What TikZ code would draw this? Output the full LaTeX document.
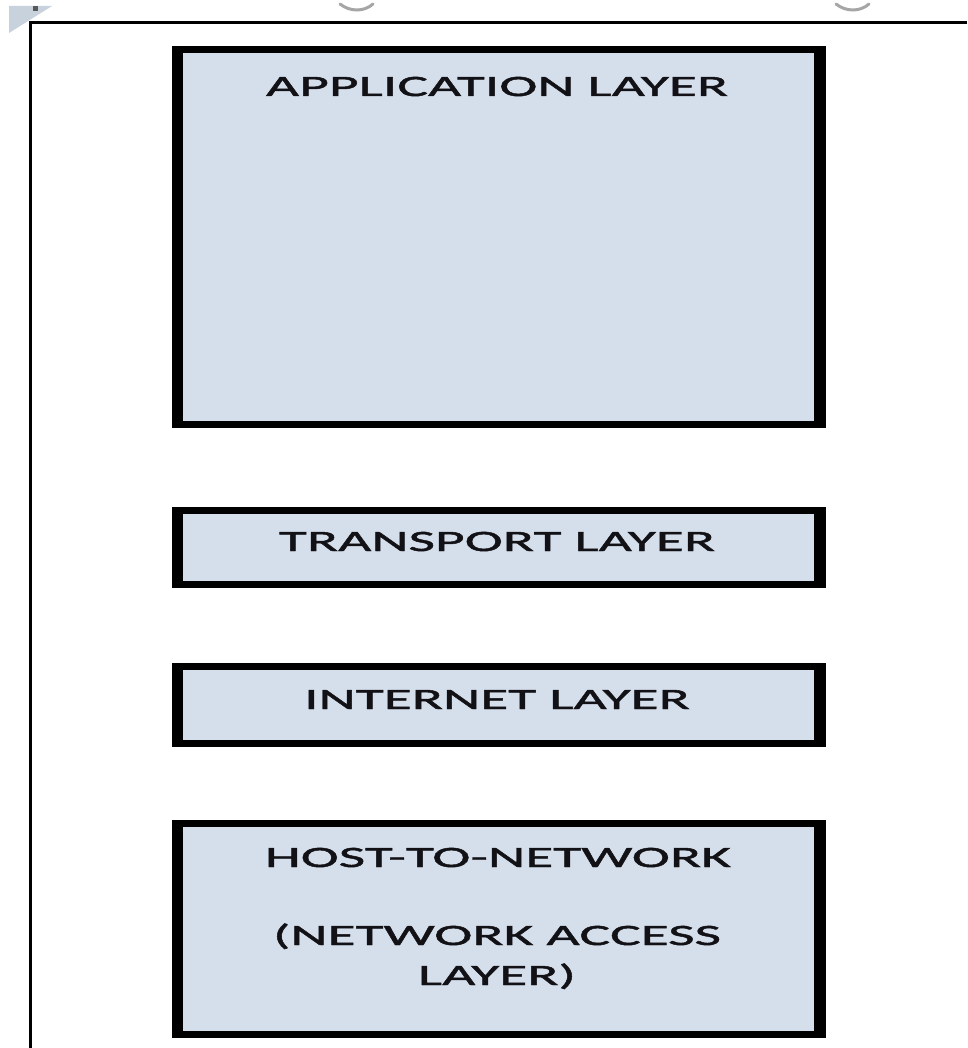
\documentclass[tikz,border=0pt]{standalone}
\usepackage{fontspec}
\newfontfamily\layerfont[FakeStretch=1.95,FakeBold=1.6]{Carlito}
\definecolor{layerfill}{RGB}{213,223,236}
\definecolor{layerink}{RGB}{18,18,22}
\definecolor{cornergray}{RGB}{200,210,220}
\tikzset{
  frameline/.style={line width=3pt, black},
  layertext/.style={anchor=base, inner sep=0pt, text=layerink,
    font=\layerfont\fontsize{29.5}{40}\selectfont},
  glyphbit/.style={line width=3pt, gray!70, line cap=round}
}
\begin{document}
\begin{tikzpicture}[x=1pt,y=-1pt]
  \useasboundingbox[fill=white] (0,0) rectangle (967,1048);

  % corner of the slide behind the frame
  \fill[cornergray] (9,6) -- (52,6) -- (9,33) -- cycle;
  \fill[gray!70!black] (33,6) rectangle (38,11);
  % cut-off descenders of the heading above
  \draw[glyphbit] (340,4) .. controls (350,12) and (364,12) .. (373,4);
  \draw[glyphbit] (836,4) .. controls (846,12) and (860,12) .. (869,4);

  % page frame
  \coordinate (ftl) at (30,23);
  \coordinate (ftr) at (967,23);
  \coordinate (fbl) at (30,1048);
  \draw[frameline] (ftr) -- (ftl) -- (fbl);

  % layer boxes: thick black border, light blue face
  \newcommand{\layerbox}[4]{%
    \fill[black] (#1,#2) rectangle (#3,#4);
    \fill[layerfill] (#1+11,#2+7) rectangle (#3-12,#4-7);}
  \layerbox{172}{46}{826}{428}
  \layerbox{172}{507}{826}{588}
  \layerbox{172}{663}{826}{747}
  \layerbox{172}{820}{826}{1038}

  % layer names
  \node[layertext] (app) at (497,96) {APPLICATION LAYER};
  \node[layertext] (transport) at (497,551) {TRANSPORT LAYER};
  \node[layertext] (internet) at (497,709) {INTERNET LAYER};
  \node[layertext] (host) at (498,867) {HOST-TO-NETWORK};
  \node[layertext] (access) at (497,945) {(NETWORK ACCESS};
  \node[layertext] (accessend) at (497,985) {LAYER)};
\end{tikzpicture}
\end{document}
